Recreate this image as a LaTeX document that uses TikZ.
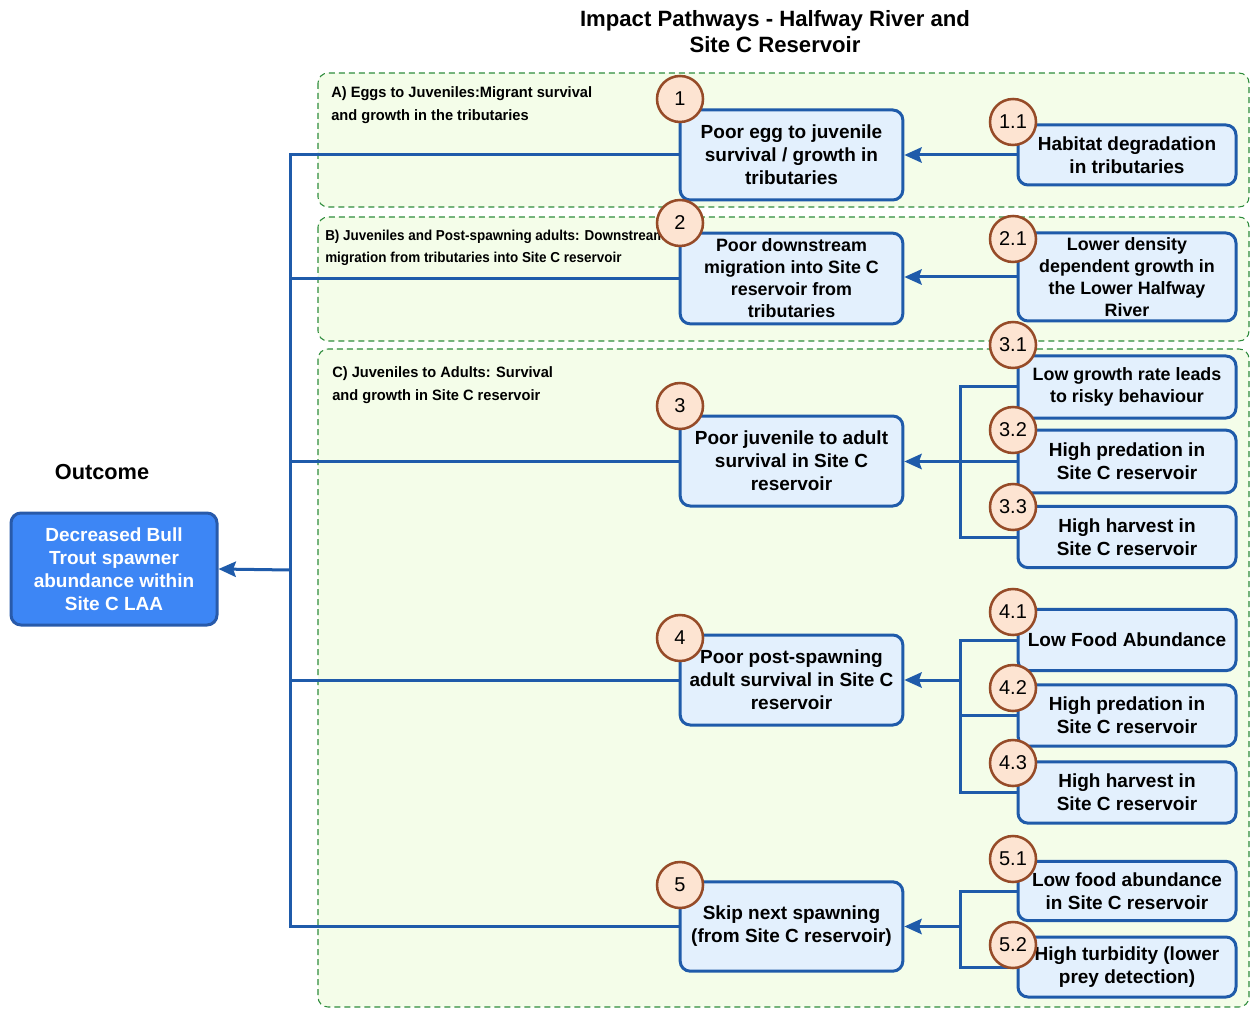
\documentclass[tikz,border=0pt]{standalone}
\usepackage{fontspec}
\setmainfont{Liberation Sans}
\newfontfamily\narrowf[FakeStretch=0.975]{Liberation Sans}
\newfontfamily\narrowerf[FakeStretch=0.935]{Liberation Sans}
\usetikzlibrary{arrows.meta}
\definecolor{lineblue}{RGB}{31,91,170}
\definecolor{boxfill}{RGB}{227,240,253}
\definecolor{outfill}{RGB}{61,134,245}
\definecolor{outdraw}{RGB}{40,90,170}
\definecolor{circfill}{RGB}{253,228,210}
\definecolor{circdraw}{RGB}{150,75,40}
\definecolor{panelfill}{RGB}{244,253,233}
\definecolor{paneldraw}{RGB}{46,140,60}
\newcommand\fsN{\fontsize{14.25pt}{17.25pt}\selectfont\bfseries}
\newcommand\fsS{\fontsize{13.4pt}{16.5pt}\selectfont\bfseries}
\newcommand\fsC{\fontsize{15pt}{18pt}\selectfont}
\newcommand\fsT{\fontsize{16.6pt}{19.5pt}\selectfont\bfseries}
\newcommand\fsO{\fontsize{16.3pt}{19.5pt}\selectfont\bfseries}
\newcommand\fsP{\fontsize{11.25pt}{17.25pt}\narrowf\bfseries}
\newcommand\fsPB{\fontsize{10.8pt}{16.5pt}\narrowerf\bfseries}
\begin{document}
\begin{tikzpicture}[x=0.75pt,y=-0.75pt,
  panel/.style={draw=paneldraw,fill=panelfill,dash pattern=on 4.5pt off 3pt,line width=0.8pt,rounded corners=7.5pt},
  plabel/.style={font=\fsP,align=left,anchor=north west,inner sep=0pt},
  mainbox/.style={draw=lineblue,fill=boxfill,line width=2.25pt,rounded corners=7.5pt,
    align=center,font=\fsN,minimum width=167pt,inner sep=2pt},
  causebox/.style={draw=lineblue,fill=boxfill,line width=2.25pt,rounded corners=7.5pt,
    align=center,font=\fsN,minimum width=163.5pt,inner sep=2pt},
  outbox/.style={draw=outdraw,fill=outfill,line width=2.25pt,rounded corners=7.5pt,
    align=center,font=\fsN,text=white,minimum width=154.5pt,minimum height=84pt,inner sep=2pt},
  num/.style={circle,draw=circdraw,fill=circfill,line width=1.9pt,minimum size=34.5pt,inner sep=0pt,font=\fsC},
  conn/.style={draw=lineblue,line width=2.25pt},
  arr/.style={conn,-{Stealth[length=13pt,width=11.5pt,inset=2pt]}}]
\useasboundingbox (0,0) rectangle (1250,1009);

% panels
\draw[panel] (318,73) rectangle (1249,207);
\draw[panel] (318,217) rectangle (1249,341);
\draw[panel] (318,349) rectangle (1249,1007);

\node[plabel] (pa) at (331,86) {A) Eggs to Juveniles:Migrant survival\\and growth in the tributaries};
\node[plabel,font=\fsPB] (pb) at (325,230) {B) Juveniles and Post-spawning adults: Downstream\\migration from tributaries into Site C reservoir};
\node[plabel] (pc) at (332,366) {C) Juveniles to Adults: Survival\\and growth in Site C reservoir};

% title and outcome
\node[align=center,font=\fsT] (title) at (775,32) {Impact Pathways - Halfway River and\\Site C Reservoir};
\node[font=\fsO] (olab) at (102,472) {Outcome};
\node[outbox] (out) at (114,569) {Decreased Bull\\Trout spawner\\abundance within\\Site C LAA};

% main boxes
\node[mainbox,minimum height=67.5pt] (N1) at (791.5,155) {Poor egg to juvenile\\survival / growth in\\tributaries};
\node[mainbox,minimum height=68pt,font=\fsS] (N2) at (791.5,278.5) {Poor downstream\\migration into Site C\\reservoir from\\tributaries};
\node[mainbox,minimum height=67.5pt] (N3) at (791.5,461) {Poor juvenile to adult\\survival in Site C\\reservoir};
\node[mainbox,minimum height=67.5pt] (N4) at (791.5,680) {Poor post-spawning\\adult survival in Site C\\reservoir};
\node[mainbox,minimum height=67pt] (N5) at (791.5,926.5) {Skip next spawning\\(from Site C reservoir)};

% cause boxes
\node[causebox,minimum height=45pt] (R11) at (1127,155) {Habitat degradation\\in tributaries};
\node[causebox,minimum height=66pt,font=\fsS] (R21) at (1127,277) {Lower density\\dependent growth in\\the Lower Halfway\\River};
\node[causebox,minimum height=46.5pt,font=\fsS] (R31) at (1127,387) {Low growth rate leads\\to risky behaviour};
\node[causebox,minimum height=47pt] (R32) at (1127,461.5) {High predation in\\Site C reservoir};
\node[causebox,minimum height=46pt] (R33) at (1127,537) {High harvest in\\Site C reservoir};
\node[causebox,minimum height=46pt] (R41) at (1127,640) {Low Food Abundance};
\node[causebox,minimum height=46pt] (R42) at (1127,715.5) {High predation in\\Site C reservoir};
\node[causebox,minimum height=46pt] (R43) at (1127,792.5) {High harvest in\\Site C reservoir};
\node[causebox,minimum height=44.5pt] (R51) at (1127,891) {Low food abundance\\in Site C reservoir};
\node[causebox,minimum height=45pt] (R52) at (1127,967) {High turbidity (lower\\prey detection)};

% connector helper coordinates
\coordinate (T) at (290,570);
\coordinate (B) at (960,0);

% trunk to outcome
\draw[conn] (N1.west) -- (N1.west -| T) -- (N5.west -| T) -- (N5.west);
\draw[conn] (N2.west) -- (N2.west -| T);
\draw[conn] (N3.west) -- (N3.west -| T);
\draw[conn] (N4.west) -- (N4.west -| T);
\draw[arr] (T) -- (out.east);

% causes to main
\draw[arr] (R11.west) -- (R11.west -| N1.east);
\draw[arr] (R21.west) -- (R21.west -| N2.east);
\draw[conn] (R31.west) -- (R31.west -| B) -- (R33.west -| B) -- (R33.west);
\draw[arr] (R32.west) -- (R32.west -| N3.east);
\draw[conn] (R41.west) -- (R41.west -| B) -- (R43.west -| B) -- (R43.west);
\draw[conn] (R42.west) -- (R42.west -| B);
\draw[arr] (N4.east -| B) -- (N4.east);
\draw[conn] (R51.west) -- (R51.west -| B) -- (R52.west -| B) -- (R52.west);
\draw[arr] (N5.east -| B) -- (N5.east);

% number circles
\node[num] (c1) at (680,99) {1};
\node[num] (c2) at (680,223) {2};
\node[num] (c3) at (680,406) {3};
\node[num] (c4) at (680,638) {4};
\node[num] (c5) at (680,885) {5};
\node[num] (c11) at (1013,122) {1.1};
\node[num] (c21) at (1013,239) {2.1};
\node[num] (c31) at (1013,345) {3.1};
\node[num] (c32) at (1013,430) {3.2};
\node[num] (c33) at (1013,507) {3.3};
\node[num] (c41) at (1013,612) {4.1};
\node[num] (c42) at (1013,688) {4.2};
\node[num] (c43) at (1013,763) {4.3};
\node[num] (c51) at (1013,859) {5.1};
\node[num] (c52) at (1013,945) {5.2};
\end{tikzpicture}
\end{document}
